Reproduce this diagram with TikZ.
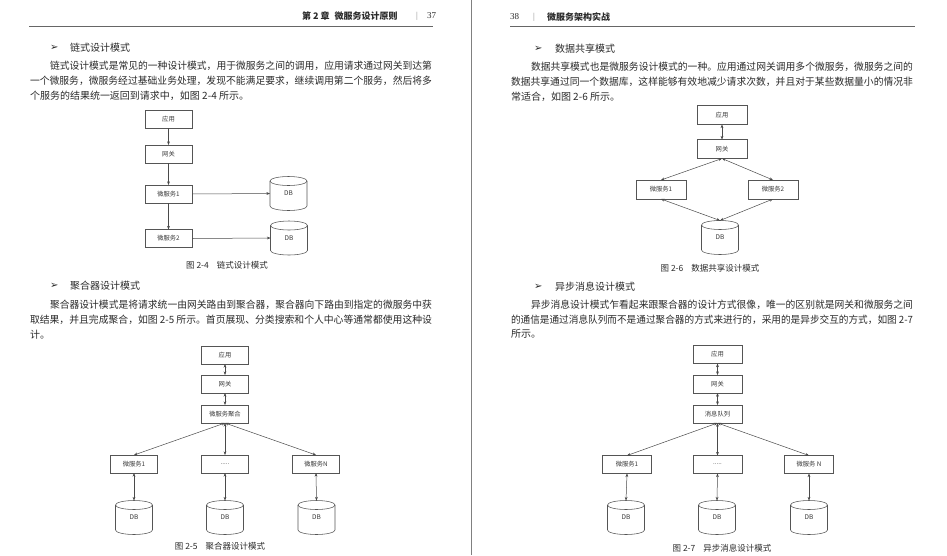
\documentclass[tikz,border=0pt]{standalone}
\usepackage{fontspec}
\setmainfont{Liberation Serif}
\newfontfamily\cjk{Noto Sans CJK SC}
\newfontfamily\symf{DejaVu Sans}
\usetikzlibrary{arrows.meta,shadows,calc}
\definecolor{txtc}{HTML}{2B2B2B}
\definecolor{boxc}{HTML}{555555}
\definecolor{linec}{HTML}{4A4A4A}
\definecolor{boxtxt}{HTML}{3A3A3A}
\newcommand\jline[2]{\resizebox{#1}{\height}{#2}}
\newcommand\dbcyl[3]{%
  \node[dbn] (#1) at (#2,#3) {DB};
  \draw[cyl] ($(#1.north west)+(0,-4.5)$) -- ($(#1.south west)+(0,4.5)$)
     arc[start angle=180,end angle=360,x radius=18.5,y radius=4.5]
     -- ($(#1.north east)+(0,-4.5)$);
  \draw[cyl] ($(#1.north)+(0,-4.5)$) ellipse[x radius=18.5,y radius=4.5];
}
\begin{document}
\begin{tikzpicture}[x=1pt,y=1pt,
  txt/.style={anchor=west,inner sep=0pt,outer sep=0pt,text=txtc,font=\cjk\fontsize{10}{12}\selectfont},
  bul/.style={anchor=west,inner sep=0pt,outer sep=0pt,text=txtc,font=\symf\fontsize{10}{12}\selectfont},
  hdr/.style={anchor=west,inner sep=0pt,outer sep=0pt,text=txtc,font=\cjk\bfseries\fontsize{9}{11}\selectfont},
  pgn/.style={anchor=west,inner sep=0pt,outer sep=0pt,text=txtc,font=\fontsize{9}{11}\selectfont},
  bar/.style={anchor=west,inner sep=0pt,outer sep=0pt,text=black!45,font=\fontsize{9}{11}\selectfont},
  captxt/.style={inner sep=0pt,outer sep=0pt,text=txtc,font=\cjk\fontsize{8.5}{10}\selectfont},
  bx/.style={draw=boxc,line width=0.55pt,fill=white,inner sep=0pt,outer sep=0pt,
     minimum width=47pt,minimum height=18pt,text=boxtxt,font=\cjk\fontsize{6.3}{7}\selectfont,
     drop shadow={shadow xshift=0.7pt,shadow yshift=-0.7pt,fill=black!30,opacity=0.6}},
  dbn/.style={inner sep=0pt,outer sep=0pt,minimum width=37pt,minimum height=34pt,
     text=boxtxt,font=\cjk\fontsize{6.5}{7}\selectfont},
  cyl/.style={draw=boxc,line width=0.55pt},
  arr/.style={draw=linec,line width=0.5pt,-{Stealth[length=3.6pt,width=2.8pt]}},
  darr/.style={draw=linec,line width=0.5pt,{Stealth[length=3.6pt,width=2.8pt]}-{Stealth[length=3.6pt,width=2.8pt]}}
]
\useasboundingbox (0,0) rectangle (947,-555);
\fill[white] (0,0) rectangle (947,-555);
\draw[black!50,line width=0.7pt] (471,0) -- (471,-555);

% ---------------- left page ----------------
\node[hdr] (h1) at (302,-16) {第 2 章\hspace{5pt}微服务设计原则};
\node[bar] (h1b) at (416,-16) {|};
\node[pgn] (h1n) at (427,-16) {37};
\draw[black!60,line width=0.5pt] (29,-26) -- (433,-26);

\node[bul] (lb1) at (50,-48) {➢};
\node[txt] (lt0) at (70,-48) {链式设计模式};
\node[txt] (lt1) at (50,-66) {\jline{382pt}{链式设计模式是常见的一种设计模式，用于微服务之间的调用，应用请求通过网关到达第}};
\node[txt] (lt2) at (30,-81) {\jline{402pt}{一个微服务，微服务经过基础业务处理，发现不能满足要求，继续调用第二个服务，然后将多}};
\node[txt] (lt3) at (30,-96) {个服务的结果统一返回到请求中，如图 2-4 所示。};

% Fig 2-4
\node[bx] (a1) at (168.5,-119) {应用};
\node[bx] (a2) at (168.5,-154) {网关};
\node[bx] (a3) at (168.5,-194) {微服务1};
\node[bx] (a4) at (168.5,-238.5) {微服务2};
\dbcyl{d1}{288.5}{-193.5}
\dbcyl{d2}{289}{-238}
\draw[arr] (a1.south) -- (a2.north);
\draw[arr] (a2.south) -- (a3.north);
\draw[arr] (a3.south) -- (a4.north);
\draw[arr] (a3.east) -- (d1.west);
\draw[arr] (a4.east) -- (d2.west);
\node[captxt] (c24) at (227,-265) {图 2-4\hspace{8pt}链式设计模式};

\node[bul] (lb2) at (50,-286) {➢};
\node[txt] (lt4) at (70,-286) {聚合器设计模式};
\node[txt] (lt5) at (50,-305) {\jline{382pt}{聚合器设计模式是将请求统一由网关路由到聚合器，聚合器向下路由到指定的微服务中获}};
\node[txt] (lt6) at (30,-320) {\jline{402pt}{取结果，并且完成聚合，如图 2-5 所示。首页展现、分类搜索和个人中心等通常都使用这种设}};
\node[txt] (lt7) at (30,-335) {计。};

% Fig 2-5
\node[bx] (b1) at (225,-355) {应用};
\node[bx] (b2) at (225,-384) {网关};
\node[bx] (b3) at (225,-414) {微服务聚合};
\node[bx] (b4) at (134,-464) {微服务1};
\node[bx] (b5) at (225,-464) {.....};
\node[bx] (b6) at (316,-464) {微服务N};
\dbcyl{e1}{134}{-517.5}
\dbcyl{e2}{225}{-517.5}
\dbcyl{e3}{316.5}{-517.5}
\draw[darr] (b1.south) -- (b2.north);
\draw[darr] (b2.south) -- (b3.north);
\draw[darr] (b3.south) -- (b4.north);
\draw[darr] (b3.south) -- (b5.north);
\draw[darr] (b3.south) -- (b6.north);
\draw[darr] (b4.south) -- (e1.north);
\draw[darr] (b5.south) -- (e2.north);
\draw[darr] (b6.south) -- (e3.north);
\node[captxt] (c25) at (220,-546) {图 2-5\hspace{8pt}聚合器设计模式};

% ---------------- right page ----------------
\node[pgn] (h2n) at (510,-17) {38};
\node[bar] (h2b) at (533,-17) {|};
\node[hdr] (h2) at (547,-17) {微服务架构实战};
\draw[black!60,line width=0.5pt] (510,-26) -- (915,-26);

\node[bul] (rb1) at (534,-49) {➢};
\node[txt] (rt0) at (555,-49) {数据共享模式};
\node[txt] (rt1) at (531,-67) {\jline{382pt}{数据共享模式也是微服务设计模式的一种。应用通过网关调用多个微服务，微服务之间的}};
\node[txt] (rt2) at (511,-82) {\jline{402pt}{数据共享通过同一个数据库，这样能够有效地减少请求次数，并且对于某些数据量小的情况非}};
\node[txt] (rt3) at (511,-97) {常适合，如图 2-6 所示。};

% Fig 2-6
\node[bx,minimum width=50pt,minimum height=19pt] (c1) at (722,-115) {应用};
\node[bx,minimum width=50pt,minimum height=19pt] (c2) at (722,-149) {网关};
\node[bx,minimum width=50pt,minimum height=19pt] (c3) at (661,-189.5) {微服务1};
\node[bx,minimum width=50pt,minimum height=19pt] (c4) at (773,-189.5) {微服务2};
\dbcyl{f1}{720}{-237.5}
\draw[darr] (c1.south) -- (c2.north);
\draw[darr] (c2.south) -- (c3.north);
\draw[darr] (c2.south) -- (c4.north);
\draw[darr] (c3.south) -- (f1.north);
\draw[darr] (c4.south) -- (f1.north);
\node[captxt] (c26) at (710,-268) {图 2-6\hspace{8pt}数据共享设计模式};

\node[bul] (rb2) at (534,-287) {➢};
\node[txt] (rt4) at (555,-287) {异步消息设计模式};
\node[txt] (rt5) at (531,-305) {\jline{382pt}{异步消息设计模式乍看起来跟聚合器的设计方式很像，唯一的区别就是网关和微服务之间}};
\node[txt] (rt6) at (511,-320) {\jline{402pt}{的通信是通过消息队列而不是通过聚合器的方式来进行的，采用的是异步交互的方式，如图 2-7}};
\node[txt] (rt7) at (511,-334) {所示。};

% Fig 2-7
\node[bx,minimum width=49pt] (g1) at (717.5,-354.5) {应用};
\node[bx,minimum width=49pt] (g2) at (717.5,-384) {网关};
\node[bx,minimum width=49pt] (g3) at (717.5,-414) {消息队列};
\node[bx,minimum width=49pt] (g4) at (627,-464.5) {微服务1};
\node[bx,minimum width=49pt] (g5) at (717.5,-464.5) {.....};
\node[bx,minimum width=49pt] (g6) at (809,-464.5) {微服务 \textit{N}};
\dbcyl{k1}{626}{-517.5}
\dbcyl{k2}{717}{-517.5}
\dbcyl{k3}{809}{-517.5}
\draw[darr] (g1.south) -- (g2.north);
\draw[darr] (g2.south) -- (g3.north);
\draw[darr] (g3.south) -- (g4.north);
\draw[darr] (g3.south) -- (g5.north);
\draw[darr] (g3.south) -- (g6.north);
\draw[darr] (g4.south) -- (k1.north);
\draw[darr] (g5.south) -- (k2.north);
\draw[darr] (g6.south) -- (k3.north);
\node[captxt] (c27) at (722,-548) {图 2-7\hspace{8pt}异步消息设计模式};
\end{tikzpicture}
\end{document}
